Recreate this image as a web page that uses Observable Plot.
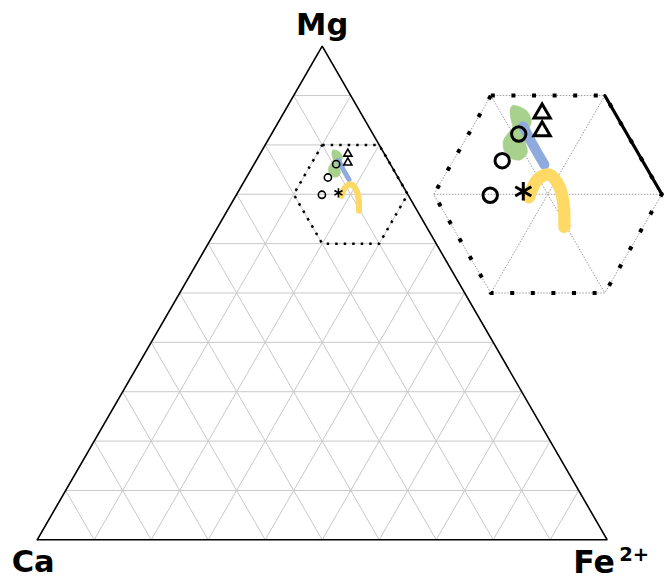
<!DOCTYPE html>
<html>
<head>
<meta charset="utf-8">
<script src="https://cdn.jsdelivr.net/npm/d3@7"></script>
<script src="https://cdn.jsdelivr.net/npm/@observablehq/plot@0.6"></script>
<style>
  body { margin: 0; background: #fff; }
  #chart svg { display: block; }
</style>
</head>
<body>
<div id="chart"></div>
<script>
// Ternary Ca – Mg – Fe2+ diagram with a magnified window around Mg70 Fe20 Ca10.

// Corner labels
const cornerLabels = ["Ca", "Mg", "Fe"];
const feCharge = "2+";

// Grid steps (mole fraction)
const gridTicks = [0.1, 0.2, 0.3, 0.4, 0.5, 0.6, 0.7, 0.8, 0.9];

// Magnified window: centre composition, half-width, magnification
const zoomMg = 0.7;
const zoomFe = 0.2;
const zoomHalf = 0.1;
const zoomFactor = 2;
const insetShiftX = 0.3458; // horizontal offset of the enlarged copy (side units)

// Analysed compositions: Mg and Fe fractions (Ca = 1 - Mg - Fe)
const circleMg = [0.761, 0.734, 0.699];
const circleFe = [0.144, 0.143, 0.150];
const triangleMg = [0.782, 0.764];
const triangleFe = [0.154, 0.163];
const starMg = [0.703];
const starFe = [0.177];

// Compositional fields and trends
const greenFieldMg = [0.790, 0.789, 0.784, 0.774, 0.768, 0.763, 0.753, 0.742,
                      0.735, 0.736, 0.743, 0.754, 0.761, 0.768, 0.7775, 0.786];
const greenFieldFe = [0.124, 0.130, 0.140, 0.1485, 0.150, 0.148, 0.154, 0.161,
                      0.159, 0.150, 0.1405, 0.134, 0.134, 0.135, 0.1286, 0.124];
const blueMg = [0.769, 0.750, 0.730];
const blueFe = [0.144, 0.162, 0.182];
const yellowMg = [0.697, 0.715, 0.720, 0.708, 0.688, 0.667];
const yellowFe = [0.185, 0.1835, 0.191, 0.206, 0.220, 0.231];

const S3 = Math.sqrt(3) / 2;
const cart = (mg, fe) => ({ x: fe + mg / 2, y: mg * S3 });
const centre = cart(zoomMg, zoomFe);
const toInset = (p) => ({
  x: centre.x + insetShiftX + zoomFactor * (p.x - centre.x),
  y: centre.y + zoomFactor * (p.y - centre.y)
});

// Grid segments for the three families of iso-lines
const grid = gridTicks.flatMap((t) => {
  const a = [cart(t, 0), cart(t, 1 - t)];           // Mg = t
  const b = [cart(0, t), cart(1 - t, t)];           // Fe = t
  const c = [cart(0, 1 - t), cart(1 - t, 0)];       // Ca = t
  return [a, b, c].map(([p, q]) => ({ x1: p.x, y1: p.y, x2: q.x, y2: q.y }));
});

const outline = [cart(0, 0), cart(0, 1), cart(1, 0), cart(0, 0)];

// Hexagonal window vertices
const hexSteps = [[1, -1], [1, 0], [0, 1], [-1, 1], [-1, 0], [0, -1], [1, -1]];
const hex = hexSteps.map(([dm, df]) => cart(zoomMg + dm * zoomHalf, zoomFe + df * zoomHalf));
const hexInset = hex.map(toInset);

// Iso-lines through the window centre, and the Ca = 0 edge inside the window
const insetGrid = [[hex[5], hex[2]], [hex[0], hex[3]], [hex[1], hex[4]]]
  .map(([p, q]) => [toInset(p), toInset(q)]);
const insetEdge = [toInset(hex[1]), toInset(hex[2])];

const pts = (mgs, fes) => mgs.map((m, i) => cart(m, fes[i]));
const markerSets = [
  { pts: pts(circleMg, circleFe), symbol: "circle", r: 3.6 },
  { pts: pts(triangleMg, triangleFe), symbol: "triangle2", r: 3.9 },
  { pts: pts(starMg, starFe), symbol: "asterisk", r: 4.4 }
];

const greenField = pts(greenFieldMg, greenFieldFe);
const trends = [
  { pts: pts(blueMg, blueFe), color: "#8faadc", w: 5 },
  { pts: pts(yellowMg, yellowFe), color: "#ffd966", w: 6.2 }
];

const fieldMark = (f) =>
  Plot.line(greenField.map(f), {
    x: "x", y: "y", fill: "#a9d18e", stroke: "#a9d18e", strokeWidth: 0.5,
    curve: "catmull-rom-closed"
  });
const trendMarks = (f, k) => trends.map((t) =>
  Plot.line(t.pts.map(f), {
    x: "x", y: "y", stroke: t.color, strokeWidth: t.w * k,
    curve: "catmull-rom", strokeLinecap: "round", strokeLinejoin: "round"
  })
);
const markerMarks = (f, k, sw) => markerSets.map((s) =>
  Plot.dot(s.pts.map(f), {
    x: "x", y: "y", symbol: s.symbol, r: s.r * k,
    stroke: "#000", strokeWidth: sw, fill: "none"
  })
);

const labelFont = "DejaVu Sans";
const label = (p, text, dx, dy, anchor, size) =>
  Plot.text([p], {
    x: "x", y: "y", text: () => text, dx, dy, textAnchor: anchor, lineAnchor: "bottom",
    fontSize: size, fontWeight: "bold", fontFamily: labelFont, fill: "#000"
  });

const chart = Plot.plot({
  width: 664,
  height: 579,
  margin: 0,
  x: { domain: [0, 1], range: [36.7, 606.7], axis: null },
  y: { domain: [0, S3], range: [539.3, 45.7], axis: null },
  style: { background: "white", overflow: "visible" },
  marks: [
    Plot.link(grid, { x1: "x1", y1: "y1", x2: "x2", y2: "y2", stroke: "#c8c8c8", strokeWidth: 1 }),
    Plot.line(outline, { x: "x", y: "y", stroke: "#000", strokeWidth: 1.6, strokeLinejoin: "miter" }),
    // dotted window on the main diagram
    Plot.line(hex, { x: "x", y: "y", stroke: "#000", strokeWidth: 2.5, strokeDasharray: "2.5,6", strokeLinecap: "butt" }),
    // enlarged window
    ...insetGrid.map((seg) =>
      Plot.line(seg, { x: "x", y: "y", stroke: "#9a9a9a", strokeWidth: 1, strokeDasharray: "1.5,1.5", strokeLinecap: "butt" })),
    Plot.line(hexInset, { x: "x", y: "y", stroke: "#9a9a9a", strokeWidth: 1, strokeDasharray: "1.5,1.5", strokeLinecap: "butt" }),
    Plot.line(insetEdge, { x: "x", y: "y", stroke: "#000", strokeWidth: 3.2 }),
    Plot.line(hexInset, { x: "x", y: "y", stroke: "#000", strokeWidth: 4, strokeDasharray: "4,16.6", strokeLinecap: "butt" }),
    fieldMark((d) => d),
    fieldMark(toInset),
    ...trendMarks((d) => d, 1),
    ...trendMarks(toInset, zoomFactor),
    ...markerMarks((d) => d, 1, 1.6),
    ...markerMarks(toInset, zoomFactor, 3),
    label(cart(0, 0), cornerLabels[0], -4, 32, "middle", 30.5),
    label(cart(1, 0), cornerLabels[1], 0, -11, "middle", 30.5),
    label(cart(0, 1), cornerLabels[2], -34, 33, "start", 31.5),
    label(cart(0, 1), feCharge, 12, 21, "start", 19.5)
  ]
});

document.getElementById("chart").append(chart);
</script>
</body>
</html>
